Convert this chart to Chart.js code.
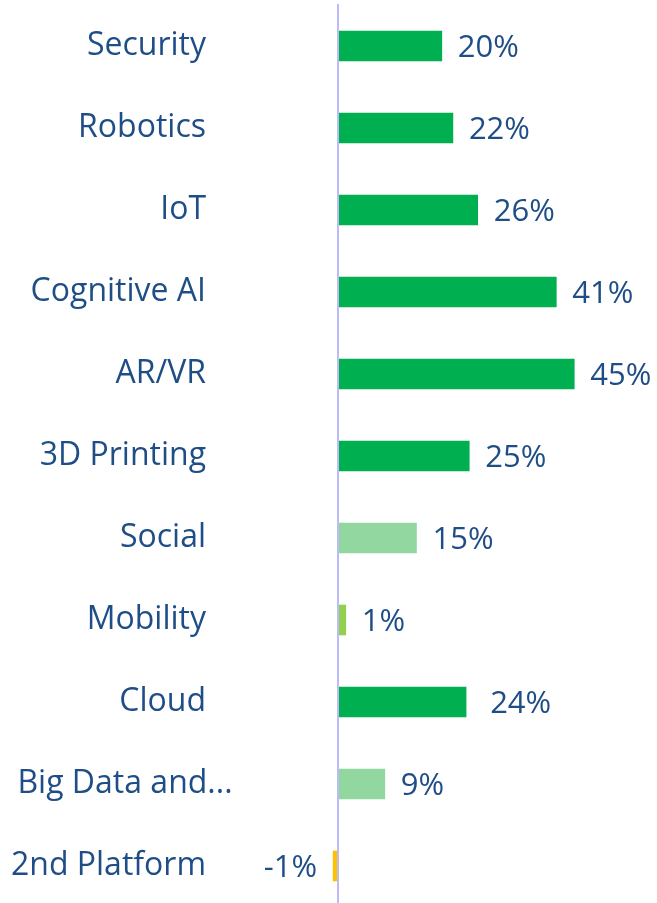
<!DOCTYPE html>
<html>
<head>
<meta charset="utf-8">
<script src="https://cdn.jsdelivr.net/npm/chart.js@4/dist/chart.umd.min.js"></script>
<style>
  html, body { margin: 0; padding: 0; background: #ffffff; overflow: hidden; }
  #wrap { width: 657px; height: 912px; }
</style>
</head>
<body>
<div id="wrap"><canvas id="c" width="657" height="912"></canvas></div>
<script>
const categories = ['Security', 'Robotics', 'IoT', 'Cognitive AI', 'AR/VR', '3D Printing', 'Social', 'Mobility', 'Cloud', 'Big Data and...', '2nd Platform'];
const values = [19.6, 21.7, 26.4, 41.3, 44.7, 24.8, 14.8, 1.4, 24.2, 8.8, -1.0];
const valueLabels = ['20%', '22%', '26%', '41%', '45%', '25%', '15%', '1%', ' 24%', '9%', '-1%'];
const barColors = ['#00B050', '#00B050', '#00B050', '#00B050', '#00B050', '#00B050', '#92D6A0', '#92D050', '#00B050', '#92D6A0', '#FFC000'];

const TEXT_COLOR = '#1F4E87';
const FONT_FAMILY = '"Open Sans", "Noto Sans", sans-serif';

const labelPlugin = {
  id: 'labelPlugin',
  afterDatasetsDraw(chart) {
    const ctx = chart.ctx;
    const x = chart.scales.x;
    const y = chart.scales.y;
    const meta = chart.getDatasetMeta(0);
    ctx.save();
    const zx = Math.round(x.getPixelForValue(0));
    ctx.strokeStyle = '#BBBBF8';
    ctx.lineWidth = 2;
    ctx.beginPath();
    ctx.moveTo(zx, 4);
    ctx.lineTo(zx, chart.height);
    ctx.stroke();

    ctx.fillStyle = TEXT_COLOR;
    ctx.font = '32px ' + FONT_FAMILY;
    ctx.textBaseline = 'alphabetic';
    categories.forEach((lab, i) => {
      const cy = y.getPixelForValue(i);
      const w = ctx.measureText(lab).width;
      if (w > 196) {
        ctx.textAlign = 'center';
        ctx.fillText(lab, 125, cy + 9);
      } else {
        ctx.textAlign = 'right';
        ctx.fillText(lab, 206, cy + 9);
      }
    });
    ctx.font = '31px ' + FONT_FAMILY;
    meta.data.forEach((bar, i) => {
      const cy = bar.y;
      if (values[i] >= 0) {
        ctx.textAlign = 'left';
        ctx.fillText(valueLabels[i], bar.x + 16, cy + 11);
      } else {
        ctx.textAlign = 'right';
        ctx.fillText(valueLabels[i], bar.x - 16, cy + 11);
      }
    });
    ctx.restore();
  }
};

function build() {
  new Chart(document.getElementById('c'), {
    type: 'bar',
    data: {
      labels: categories,
      datasets: [{
        data: values,
        backgroundColor: barColors,
        borderWidth: 0,
        barThickness: 30
      }]
    },
    options: {
      indexAxis: 'y',
      responsive: false,
      animation: false,
      devicePixelRatio: 1,
      layout: { padding: { top: 5, bottom: 5, left: 312, right: 2 } },
      plugins: { legend: { display: false }, tooltip: { enabled: false } },
      scales: {
        x: { display: false, min: -5, max: 60 },
        y: { display: false, offset: true }
      }
    },
    plugins: [labelPlugin]
  });
}

if (document.fonts && document.fonts.load) {
  Promise.all([document.fonts.load('32px "Open Sans"'), document.fonts.load('31px "Open Sans"')]).then(build, build);
} else {
  build();
}
</script>
</body>
</html>
